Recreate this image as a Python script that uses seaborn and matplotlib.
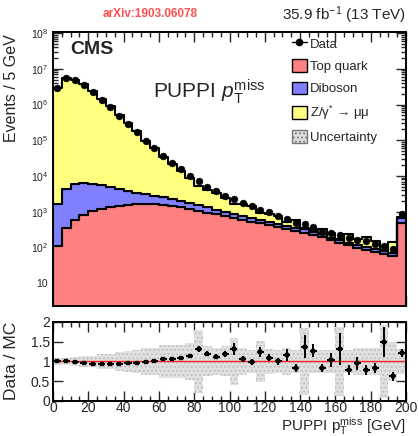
import numpy as np
import pandas as pd
import matplotlib
matplotlib.use('Agg')
import matplotlib.pyplot as plt
import seaborn as sns
from matplotlib.patches import Patch
from matplotlib.lines import Line2D
from matplotlib.ticker import MultipleLocator, FixedLocator, NullFormatter

# binning: 5 GeV bins from 0 to 200 GeV
bin_edges = np.arange(0, 205, 5)
centers = bin_edges[:-1] + 2.5

# stacked MC (events / bin)
top_quark = [108, 345, 578, 798, 1033, 1213, 1361, 1452, 1570, 1622,
             1622, 1592, 1520, 1472, 1337, 1191, 1059, 944, 840, 748,
             667, 593, 528, 470, 419, 373, 334, 297, 261, 227,
             193, 159, 137, 115, 99, 87, 75, 65, 57, 486]
diboson = [1514, 4061, 5202, 5409, 5051, 4308, 3492, 2761, 2232, 1782,
           1469, 1214, 1027, 840, 695, 562, 461, 377, 312, 259,
           213, 174, 146, 123, 103, 85, 71, 63, 62, 43,
           41, 30, 29, 22, 21, 17, 14, 15, 13, 160]
dy_mumu = [2.818e6, 5.445e6, 4.89e6, 3.64e6, 2.35e6, 1.42e6, 9.05e5, 4.99e5, 2.94e5, 1.73e5,
           9.3e4, 5.72e4, 3.1e4, 1.93e4, 1.22e4, 7.05e3, 3.88e3, 2.72e3, 2.12e3, 1.38e3,
           800, 923, 766, 334, 343, 290, 122, 224, 17, 32,
           98, 62, 10, 102, 47, 91, 59, 3, 76, 57]

# observed data
data = [2.88e6, 5.5e6, 4.8e6, 3.5e6, 2.22e6, 1.33e6, 8.45e5, 4.73e5, 2.83e5, 1.69e5,
        9.4e4, 6.0e4, 3.6e4, 2.29e4, 1.55e4, 9.9e3, 7.1e3, 4.85e3, 3.68e3, 2.84e3,
        2.2e3, 1.81e3, 1.43e3, 1.15e3, 951, 748, 617, 485, 467, 385,
        279, 261, 230, 189, 159, 152, 123, 108, 91, 851]

# data / MC ratio and its error
ratio = [1.02, 1.01, 0.98, 0.96, 0.94, 0.93, 0.93, 0.94, 0.95, 0.96,
         0.98, 1.0, 1.07, 1.06, 1.09, 1.13, 1.32, 1.2, 1.125, 1.19,
         1.31, 1.07, 0.99, 1.24, 1.1, 1.0, 1.17, 0.83, 1.375, 1.275,
         0.84, 1.04, 1.31, 0.79, 0.95, 0.78, 0.83, 1.49, 0.625, 1.21]
ratio_err = [0.01, 0.01, 0.01, 0.01, 0.01, 0.01, 0.01, 0.01, 0.01, 0.01,
             0.01, 0.015, 0.02, 0.02, 0.025, 0.03, 0.07, 0.06, 0.06, 0.08,
             0.15, 0.08, 0.07, 0.12, 0.1, 0.1, 0.15, 0.1, 0.29, 0.17,
             0.1, 0.17, 0.4, 0.12, 0.16, 0.12, 0.13, 0.38, 0.12, 0.1]

# relative MC uncertainty
mc_unc = [0.09, 0.1, 0.11, 0.13, 0.15, 0.18, 0.2, 0.23, 0.27, 0.28,
          0.34, 0.34, 0.43, 0.43, 0.42, 0.48, 0.8, 0.38, 0.33, 0.38,
          0.6, 0.33, 0.3, 0.52, 0.31, 0.3, 0.33, 0.28, 0.85, 0.28,
          0.3, 0.3, 0.87, 0.3, 0.33, 0.33, 0.33, 0.93, 0.5, 0.32]

c_top = '#ff8080'
c_vv = '#8080ff'
c_dy = '#ffff80'

sns.set_theme(style='ticks')
plt.rcParams['font.family'] = ['Liberation Sans', 'DejaVu Sans']
plt.rcParams['mathtext.fontset'] = 'custom'
plt.rcParams['mathtext.rm'] = 'Liberation Sans'
plt.rcParams['mathtext.it'] = 'Liberation Sans:italic'
plt.rcParams['mathtext.bf'] = 'Liberation Sans:bold'
plt.rcParams['hatch.linewidth'] = 0.8

df = pd.DataFrame({
    'pt': np.tile(centers, 3),
    'events': np.concatenate([dy_mumu, diboson, top_quark]),
    'process': np.repeat(['dy', 'vv', 'top'], len(centers)),
})

fig = plt.figure(figsize=(4.19, 4.36), dpi=100)
ax = fig.add_axes([0.1265, 0.2982, 0.8425, 0.6284])
rax = fig.add_axes([0.1265, 0.0803, 0.8425, 0.1812])

ax.set_yscale('log')
sns.histplot(data=df, x='pt', weights='events', hue='process',
             hue_order=['dy', 'vv', 'top'], multiple='stack', bins=list(bin_edges),
             element='step', palette={'dy': c_dy, 'vv': c_vv, 'top': c_top},
             edgecolor='black', linewidth=1.5, alpha=1, ax=ax, legend=False)

sns.scatterplot(x=centers, y=data, color='black', s=24, edgecolor='black', ax=ax, zorder=5)

ax.set_xlim(0, 200)
ax.set_ylim(2.3, 1.07e8)
ax.set_xlabel('')
ax.set_ylabel('')
ax.xaxis.set_major_locator(MultipleLocator(20))
ax.xaxis.set_minor_locator(MultipleLocator(5))
ax.yaxis.set_major_locator(FixedLocator([10, 1e2, 1e3, 1e4, 1e5, 1e6, 1e7, 1e8]))
ax.set_yticklabels(['10'] + [r'$\mathregular{10^{%d}}$' % n for n in range(2, 9)], fontsize=7.5)
minor = [m * 10 ** e for e in range(0, 8) for m in range(2, 10)]
ax.yaxis.set_minor_locator(FixedLocator(minor))
ax.yaxis.set_minor_formatter(NullFormatter())
ax.tick_params(which='both', direction='in', top=True, right=True, labelbottom=False, width=1)
ax.tick_params(which='major', length=7)
ax.tick_params(which='minor', length=3.5)

# ratio panel
unc = np.array(mc_unc)
rx = np.append(unc, unc[-1])
rax.fill_between(bin_edges, 1 - rx, 1 + rx, step='post', facecolor='#e0e0e0',
                 hatch='....', edgecolor='#bdbdbd', linewidth=0)
rax.axhline(1, color='#ff2020', lw=1)
rax.errorbar(centers, ratio, yerr=ratio_err, xerr=2, fmt='none', ecolor='black', elinewidth=1.4)
sns.scatterplot(x=centers, y=ratio, color='black', marker='s', s=7, edgecolor='black', ax=rax, zorder=5)
rax.set_xlim(0, 200)
rax.set_ylim(0, 2)
rax.xaxis.set_major_locator(MultipleLocator(20))
rax.xaxis.set_minor_locator(MultipleLocator(5))
rax.set_yticks([0, 0.5, 1, 1.5, 2])
rax.set_yticklabels(['0', '0.5', '1', '1.5', '2'], fontsize=10)
rax.set_xticks(range(0, 201, 20))
rax.set_xticklabels([str(v) for v in range(0, 201, 20)], fontsize=10)
rax.tick_params(which='both', direction='in', top=True, right=True, width=1)
rax.tick_params(axis='x', pad=0)
rax.tick_params(axis='y', pad=2)
rax.tick_params(which='major', length=7)
rax.tick_params(which='minor', length=3.5)
rax.set_xlabel('')
rax.set_ylabel('')

for a in (ax, rax):
    for s in a.spines.values():
        s.set_linewidth(1.4)
        s.set_color('black')

# texts
fig.text(12 / 419, 1 - 34 / 436, 'Events / 5 GeV', rotation=90, ha='center', va='top', fontsize=11.5)
fig.text(12 / 419, 1 - 361 / 436, 'Data / MC', rotation=90, ha='center', va='center', fontsize=12.5)
fig.text(406 / 419, 1 - 426 / 436, r'PUPPI p$_{\mathregular{T}}^{\mathregular{miss}}$ [GeV]',
         ha='right', va='center', fontsize=11)
fig.text(406 / 419, 1 - 15 / 436, r'35.9 fb$^{\mathregular{-1}}$ (13 TeV)', ha='right', va='center', fontsize=11)
fig.text(150 / 419, 1 - 14 / 436, 'arXiv:1903.06078', ha='center', va='center', fontsize=8.5,
         fontweight='bold', color='#ff5050')
fig.text(70 / 419, 1 - 49 / 436, 'CMS', ha='left', va='center', fontsize=14, fontweight='bold')
fig.text(153 / 419, 1 - 92 / 436, r'PUPPI $p_{\mathregular{T}}^{\mathregular{miss}}$', ha='left', va='center',
         fontsize=15)

handles = [
    Line2D([0], [0], color='black', marker='o', markersize=4.5, lw=1),
    Patch(facecolor=c_top, edgecolor='black', linewidth=1),
    Patch(facecolor=c_vv, edgecolor='black', linewidth=1),
    Patch(facecolor=c_dy, edgecolor='black', linewidth=1),
    Patch(facecolor='#dddddd', edgecolor='#777777', hatch='....', linewidth=1),
]
labels = ['Data', 'Top quark', 'Diboson', r'Z/γ$^{*}$ → μμ', 'Uncertainty']
fig.legend(handles, labels, loc='upper left', bbox_to_anchor=(292 / 419, 1 - 37 / 436),
           frameon=False, fontsize=9.5, handlelength=1.1, handleheight=1.1,
           handletextpad=0.25, labelspacing=0.64, borderpad=0, borderaxespad=0)

fig.savefig('out.png', dpi=100)
